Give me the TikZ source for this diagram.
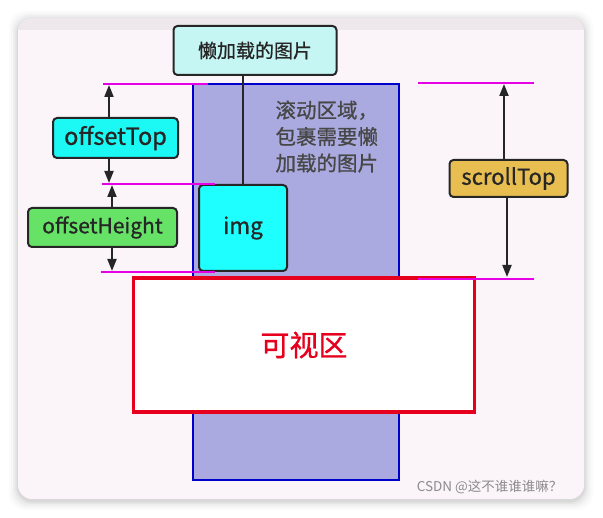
\documentclass[tikz,border=0pt]{standalone}
\usepackage{fontspec}
\setmainfont{Noto Sans CJK SC}
\newfontfamily\lblfont{Noto Sans CJK SC}[FakeBold=0.9]
\usetikzlibrary{arrows.meta}
\definecolor{cardbg}{HTML}{FBF4F9}
\definecolor{band}{HTML}{EEE7EC}
\definecolor{topfill}{HTML}{C6F6F3}
\definecolor{cyanfill}{HTML}{1CF8F4}
\definecolor{imgfill}{HTML}{1EFFFF}
\definecolor{greenfill}{HTML}{66E266}
\definecolor{goldfill}{HTML}{E8BE50}
\definecolor{scrollfill}{HTML}{AAAAE0}
\definecolor{scrollline}{HTML}{0000CC}
\definecolor{mag}{HTML}{E600E6}
\definecolor{visred}{HTML}{E6001E}
\definecolor{ink}{HTML}{262626}
\tikzset{
  labelbox/.style={draw=ink, line width=2pt, rounded corners=4pt, inner sep=0pt, text=ink},
  arr/.style={draw=ink, line width=2pt, -{Triangle[length=12pt,width=9pt]}},
  guide/.style={draw=mag, line width=1.9pt},
}
\begin{document}
\begin{tikzpicture}[x=1pt,y=-1pt]
\useasboundingbox (0,0) rectangle (603,518);
% card shadow
\foreach \i/\o in {9/0.015,7/0.02,5/0.03,3/0.04,1.5/0.05}{
  \fill[black, opacity=\o, rounded corners=16pt] (18-\i,18-\i+2) rectangle (584+\i,499+\i+2);
}
\fill[cardbg, rounded corners=14pt] (18,18) rectangle (584,499);
\begin{scope}
  \clip[rounded corners=14pt] (18,18) rectangle (584,499);
  \fill[band] (18,18) rectangle (584,30);
\end{scope}
% scroll region
\node[draw=scrollline, fill=scrollfill, line width=2pt, minimum width=206pt, minimum height=396pt, inner sep=0pt] (scroll) at (296,282) {};
\node[text=ink!85, font=\lblfont\fontsize{20.5}{26.5}\selectfont, align=left, anchor=north west] (scrolltxt) at (272,97) {滚动区域，\\包裹需要懒\\加载的图片};
% top node
\node[labelbox, fill=topfill, minimum width=163pt, minimum height=49pt, font=\lblfont\fontsize{19}{22}\selectfont] (top) at (255,50.5) {懒加载的图片};
% img
\node[labelbox, fill=imgfill, minimum width=88pt, minimum height=86pt, font=\lblfont\fontsize{22.5}{26}\selectfont] (img) at (243,228) {img};
\draw[ink, line width=2pt] (img.north) -- (img.north |- top.south);
% label boxes
\node[labelbox, fill=cyanfill, minimum width=125pt, minimum height=40pt, font=\lblfont\fontsize{23.5}{26}\selectfont] (ot) at (115.5,138) {offsetTop};
\node[labelbox, fill=greenfill, minimum width=149pt, minimum height=39pt, font=\lblfont\fontsize{21}{24}\selectfont] (oh) at (102.5,227.5) {offsetHeight};
\node[labelbox, fill=goldfill, minimum width=118pt, minimum height=37pt, font=\lblfont\fontsize{22}{24}\selectfont] (st) at (508.5,178.5) {scrollTop};
% guide line end points
\coordinate (g1a) at (103,84);  \coordinate (g1b) at (208,84);
\coordinate (g2a) at (102,184); \coordinate (g2b) at (215,184);
\coordinate (g3a) at (101,272); \coordinate (g3b) at (215,272);
\coordinate (g4a) at (418,83);  \coordinate (g4b) at (534,83);
\coordinate (g5a) at (418,279); \coordinate (g5b) at (534,279);
% arrows
\coordinate (a1) at (109,85);
\coordinate (a2) at (109,183);
\coordinate (a3) at (112,185);
\coordinate (a4) at (112,271);
\coordinate (a5) at (504,84);
\coordinate (a6) at (507,277);
\draw[arr] (ot.north -| a1) -- (a1);
\draw[arr] (ot.south -| a2) -- (a2);
\draw[arr] (oh.north -| a3) -- (a3);
\draw[arr] (oh.south -| a4) -- (a4);
\draw[arr] (st.north -| a5) -- (a5);
\draw[arr] (st.south -| a6) -- (a6);
% visible area
\node[draw=visred, fill=white, line width=3.2pt, minimum width=341pt, minimum height=134pt, inner sep=0pt, text=visred, font=\lblfont\fontsize{29}{32}\selectfont] (vis) at (304,345) {可视区};
% guides
\draw[guide] (g1a) -- (g1b);
\draw[guide] (g2a) -- (g2b);
\draw[guide] (g3a) -- (g3b);
\draw[guide] (g4a) -- (g4b);
\draw[guide] (g5a) -- (g5b);
% watermark
\node[text=black!45, font=\fontsize{13.5}{15}\selectfont, anchor=east] (wm) at (566,487) {CSDN @这不谁谁谁嘛？};
\end{tikzpicture}
\end{document}
